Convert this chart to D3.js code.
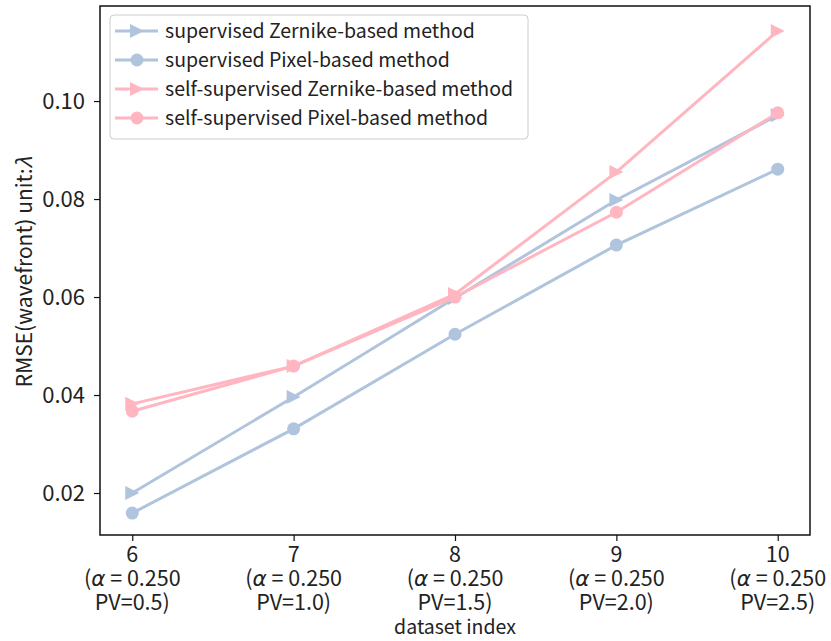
<!DOCTYPE html>
<html>
<head>
<meta charset="utf-8">
<script src="https://cdn.jsdelivr.net/npm/d3@7"></script>
<style>
  body { margin: 0; background: #fff; }
  svg text { font-family: "Noto Sans CJK JP", "Noto Sans", sans-serif; fill: #222; }
</style>
</head>
<body>
<svg id="chart" width="831" height="641"></svg>
<script>
// data
const datasets = [6, 7, 8, 9, 10];
const pvValues = ["0.5", "1.0", "1.5", "2.0", "2.5"];
const supZernike = [0.0200, 0.0396, 0.0598, 0.0798, 0.0971];
const supPixel = [0.0159, 0.0331, 0.0524, 0.0706, 0.0861];
const selfZernike = [0.0382, 0.0459, 0.0606, 0.0855, 0.1143];
const selfPixel = [0.0367, 0.0459, 0.0600, 0.0773, 0.0976];
const yTicks = [0.02, 0.04, 0.06, 0.08, 0.10];

const series = [
  {name: "supervised Zernike-based method", values: supZernike, color: "#b0c4de", marker: "tri"},
  {name: "supervised Pixel-based method", values: supPixel, color: "#b0c4de", marker: "circle"},
  {name: "self-supervised Zernike-based method", values: selfZernike, color: "#ffb6c1", marker: "tri"},
  {name: "self-supervised Pixel-based method", values: selfPixel, color: "#ffb6c1", marker: "circle"}
];

const pLeft = 100, pRight = 810, pTop = 6, pBottom = 535;
const svg = d3.select("#chart");

const x = d3.scaleLinear().domain([5.8, 10.2]).range([pLeft, pRight]);
const y = d3.scaleLinear().domain([0.01143, 0.1194]).range([pBottom, pTop]);

function drawMarker(g, type, cx, cy, color) {
  if (type === "circle") {
    g.append("circle").attr("cx", cx).attr("cy", cy).attr("r", 6.5).attr("fill", color);
  } else {
    let r = 7;
    g.append("path")
      .attr("d", `M${cx + r},${cy} L${cx - r},${cy + r} L${cx - r},${cy - r} Z`)
      .attr("fill", color);
  }
}

// lines + markers
const line = d3.line().x((d, i) => x(datasets[i])).y(d => y(d));
series.forEach(s => {
  let g = svg.append("g");
  g.append("path").attr("d", line(s.values))
    .attr("fill", "none").attr("stroke", s.color).attr("stroke-width", 3);
  s.values.forEach((v, i) => drawMarker(g, s.marker, x(datasets[i]), y(v), s.color));
});

// frame
svg.append("rect").attr("x", pLeft).attr("y", pTop)
  .attr("width", pRight - pLeft).attr("height", pBottom - pTop)
  .attr("fill", "none").attr("stroke", "#111").attr("stroke-width", 1.5);

// y axis
const yAxis = svg.append("g").attr("transform", `translate(${pLeft},0)`)
  .call(d3.axisLeft(y).tickValues(yTicks).tickFormat(d3.format(".2f")).tickSize(6).tickPadding(9));
yAxis.select(".domain").remove();
yAxis.selectAll("text").style("font-size", "22px").attr("fill", "#222");
yAxis.selectAll("line").attr("stroke", "#111").attr("stroke-width", 1.2);

// x axis
const xAxis = svg.append("g").attr("transform", `translate(0,${pBottom})`)
  .call(d3.axisBottom(x).tickValues(datasets).tickSize(6).tickFormat(""));
xAxis.select(".domain").remove();
xAxis.selectAll("line").attr("stroke", "#111").attr("stroke-width", 1.2);

datasets.forEach((d, i) => {
  let t = svg.append("text")
    .attr("text-anchor", "middle")
    .style("font-size", "21.5px");
  t.append("tspan").attr("x", x(d)).attr("y", 562).text(d);
  let l2 = t.append("tspan").attr("x", x(d)).attr("y", 586);
  l2.append("tspan").text("(");
  l2.append("tspan").style("font-style", "italic")
    .style("font-family", "'DejaVu Sans', sans-serif").text("α");
  l2.append("tspan").text(" = 0.250");
  t.append("tspan").attr("x", x(d)).attr("y", 610).text("PV=" + pvValues[i] + ")");
});

// axis labels
svg.append("text").attr("x", x(8)).attr("y", 634)
  .attr("text-anchor", "middle").style("font-size", "19.5px").text("dataset index");
let yl = svg.append("text")
  .attr("transform", "translate(32,272) rotate(-90)")
  .attr("text-anchor", "middle").style("font-size", "21px");
yl.append("tspan").text("RMSE(wavefront) unit:");
yl.append("tspan").style("font-style", "italic").text("λ");

// legend
const legend = svg.append("g");
legend.append("rect").attr("x", 110).attr("y", 15).attr("width", 418).attr("height", 124)
  .attr("rx", 4).attr("fill", "#fff").attr("fill-opacity", 0.85)
  .attr("stroke", "#ccc").attr("stroke-width", 1);
series.forEach((s, i) => {
  let ly = 31 + i * 29;
  legend.append("line").attr("x1", 115).attr("x2", 158).attr("y1", ly).attr("y2", ly)
    .attr("stroke", s.color).attr("stroke-width", 3);
  drawMarker(legend, s.marker, 137, ly, s.color);
  legend.append("text").attr("x", 165).attr("y", ly).attr("dy", "0.35em")
    .style("font-size", "19.5px")
    .text(s.name);
});
</script>
</body>
</html>
